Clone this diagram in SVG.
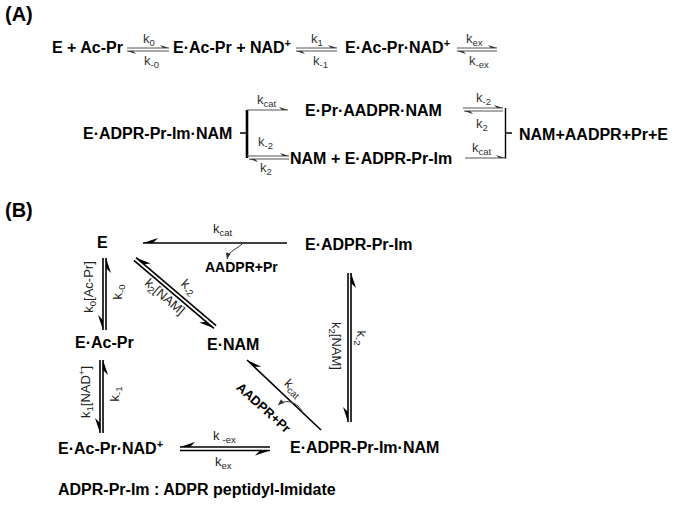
<svg xmlns="http://www.w3.org/2000/svg" width="679" height="506" viewBox="0 0 679 506">
<defs>
<style>
.t{font-family:"Liberation Sans",Arial,sans-serif;font-weight:bold;font-size:16px;fill:#000}
.h{font-family:"Liberation Sans",Arial,sans-serif;font-weight:bold;font-size:20px;fill:#000}
.k{font-family:"Liberation Sans",Arial,sans-serif;font-size:13px;fill:#333}
.kb{font-family:"Liberation Sans",Arial,sans-serif;font-size:13px;fill:#222}
.s{font-size:9.5px}
.sp{font-size:11px}
.ga{stroke:#555;stroke-width:1.2;fill:none;marker-end:url(#ha)}
.bl{stroke:#000;stroke-width:1.6;fill:none}
.b{stroke:#000;stroke-width:1.6;fill:none;marker-end:url(#hb)}
.c{stroke:#333;stroke-width:1;fill:none;marker-end:url(#hc)}
</style>
<marker id="ha" viewBox="-12 -6 14 12" markerWidth="14" markerHeight="12" refX="0" refY="0" orient="auto" markerUnits="userSpaceOnUse"><path d="M0,0 L-9,-3 L-6,0 Z" fill="#333"/></marker>
<marker id="hb" viewBox="-18 -8 20 16" markerWidth="20" markerHeight="16" refX="0" refY="0" orient="auto" markerUnits="userSpaceOnUse"><path d="M0,0 L-15,5 L-10,0 Z" fill="#000"/></marker>
<marker id="hc" viewBox="-8 -5 10 10" markerWidth="10" markerHeight="10" refX="0" refY="0" orient="auto" markerUnits="userSpaceOnUse"><path d="M0,0 L-6,-2.5 L-6,2.5 Z" fill="#333"/></marker>
</defs>
<rect width="679" height="506" fill="#fff"/>

<text class="h" x="5" y="21">(A)</text>
<text class="h" x="5" y="217">(B)</text>

<!-- Part A nodes -->
<g id="a-e-acpr"><text class="t" x="52" y="53">E + Ac-Pr</text></g>
<g id="a-eacpr-nad"><text class="t" x="173" y="53">E·Ac-Pr + NAD<tspan class="sp" dy="-6">+</tspan></text></g>
<g id="a-eacprnad"><text class="t" x="345" y="53">E·Ac-Pr·NAD<tspan class="sp" dy="-6">+</tspan></text></g>
<g id="a-eadprprimnam"><text class="t" x="83" y="139">E·ADPR-Pr-Im·NAM</text></g>
<g id="a-epraadprnam"><text class="t" x="305" y="116">E·Pr·AADPR·NAM</text></g>
<g id="a-nam-eadprprim"><text class="t" x="290" y="164">NAM + E·ADPR-Pr-Im</text></g>
<g id="a-products"><text class="t" x="519" y="140">NAM+AADPR+Pr+E</text></g>

<!-- Part B nodes -->
<g id="b-e"><text class="t" x="97" y="248">E</text></g>
<g id="b-eadprprim"><text class="t" x="305" y="250">E·ADPR-Pr-Im</text></g>
<g id="b-eacpr"><text class="t" x="75" y="348">E·Ac-Pr</text></g>
<g id="b-enam"><text class="t" x="207" y="350">E·NAM</text></g>
<g id="b-eacprnad"><text class="t" x="58" y="454">E·Ac-Pr·NAD<tspan class="sp" dy="-6">+</tspan></text></g>
<g id="b-eadprprimnam"><text class="t" x="290" y="453">E·ADPR-Pr-Im·NAM</text></g>
<g id="b-note"><text class="t" x="58" y="495">ADPR-Pr-Im : ADPR peptidyl-Imidate</text></g>

<g id="connectors">
<!-- A row 1 -->
<path class="ga" d="M127,48 L169,48"/>
<path class="ga" d="M169,51 L127,51"/>
<path class="ga" d="M296,48 L337,48"/>
<path class="ga" d="M337,51 L296,51"/>
<path class="ga" d="M457,48 L497,48"/>
<path class="ga" d="M497,51 L457,51"/>
<!-- A left bracket -->
<path d="M240,133 L247,133" stroke="#000" stroke-width="1.5"/>
<path d="M247,110 L247,158" stroke="#000" stroke-width="2.6"/>
<path class="ga" d="M247,110 L288,110"/>
<path class="ga" d="M247,156 L289,156"/>
<path class="ga" d="M289,159 L249,159"/>
<!-- A right bracket -->
<path class="ga" d="M463,108 L503,108"/>
<path class="ga" d="M503,111 L464,111"/>
<path class="ga" d="M465,158 L505,158"/>
<path d="M505.5,108 L505.5,158.5 M505.5,133 L512,133" stroke="#000" stroke-width="1.4" fill="none"/>

<!-- B -->
<path class="b" d="M287,243 L143,243"/>
<path class="c" d="M243,243 C238,249 229,250 227,259"/>
<path class="b" d="M103,258 L103,330"/>
<path class="b" d="M106,330 L106,258"/>
<path class="b" d="M100,360 L100,433"/>
<path class="b" d="M103,433 L103,360"/>
<path class="b" d="M216.1,325.7 L136.1,257.7"/>
<path class="b" d="M133.9,260.3 L213.9,328.3"/>
<path class="b" d="M348,273 L348,422"/>
<path class="b" d="M351,422 L351,273"/>
<path class="b" d="M321,430 L247,360"/>
<path class="c" d="M302,411 C296,401 285,399 278,405"/>
<path class="b" d="M270,447 L180,447"/>
<path class="b" d="M180,450.5 L270,450.5"/>
</g>

<g id="labels">
<text class="k" x="143" y="43">k<tspan class="s" dy="3">0</tspan></text>
<text class="k" x="144" y="65">k<tspan class="s" dy="3">-0</tspan></text>
<text class="k" x="311" y="43">k<tspan class="s" dy="3">1</tspan></text>
<text class="k" x="313" y="65">k<tspan class="s" dy="3">-1</tspan></text>
<text class="k" x="466" y="43">k<tspan class="s" dy="3">ex</tspan></text>
<text class="k" x="469" y="65">k<tspan class="s" dy="3">-ex</tspan></text>
<text class="k" x="257" y="104">k<tspan class="s" dy="3">cat</tspan></text>
<text class="k" x="258" y="146">k<tspan class="s" dy="3">-2</tspan></text>
<text class="k" x="260" y="172">k<tspan class="s" dy="3">2</tspan></text>
<text class="k" x="476" y="102">k<tspan class="s" dy="3">-2</tspan></text>
<text class="k" x="476" y="128">k<tspan class="s" dy="3">2</tspan></text>
<text class="k" x="472" y="152">k<tspan class="s" dy="3">cat</tspan></text>

<text class="kb" x="213" y="233">k<tspan class="s" dy="3">cat</tspan></text>
<text class="t" style="font-size:14px" x="205" y="272">AADPR+Pr</text>
<text class="kb" transform="translate(93,287) rotate(-90)" text-anchor="middle">k<tspan class="s" dy="3">0</tspan><tspan dy="-3">[Ac-Pr]</tspan></text>
<text class="kb" transform="translate(122,292) rotate(-90)" text-anchor="middle">k<tspan class="s" dy="3">-0</tspan></text>
<text class="kb" transform="translate(90,392) rotate(-90)" text-anchor="middle">k<tspan class="s" dy="3">1</tspan><tspan dy="-3">[NAD</tspan><tspan class="s" dy="-5">+</tspan><tspan dy="5">]</tspan></text>
<text class="kb" transform="translate(119,394) rotate(-90)" text-anchor="middle">k<tspan class="s" dy="3">-1</tspan></text>
<text class="kb" transform="translate(186,290) rotate(41)" text-anchor="middle">k<tspan class="s" dy="3">-2</tspan></text>
<text class="kb" transform="translate(162,300) rotate(41)" text-anchor="middle">k<tspan class="s" dy="3">2</tspan><tspan dy="-3">[NAM]</tspan></text>
<text class="kb" transform="translate(332,346) rotate(90)" text-anchor="middle">k<tspan class="s" dy="3">2</tspan><tspan dy="-3">[NAM]</tspan></text>
<text class="kb" transform="translate(357,338) rotate(90)" text-anchor="middle">k<tspan class="s" dy="3">-2</tspan></text>
<text class="kb" transform="translate(290.5,391) rotate(43)" text-anchor="middle">k<tspan class="s" dy="3">cat</tspan></text>
<text class="t" style="font-size:13px" transform="translate(260.5,411) rotate(42)" text-anchor="middle">AADPR+Pr</text>
<text class="kb" x="213" y="440">k<tspan class="s" dx="3" dy="3">-ex</tspan></text>
<text class="kb" x="215" y="466">k<tspan class="s" dy="3">ex</tspan></text>
</g>
</svg>
